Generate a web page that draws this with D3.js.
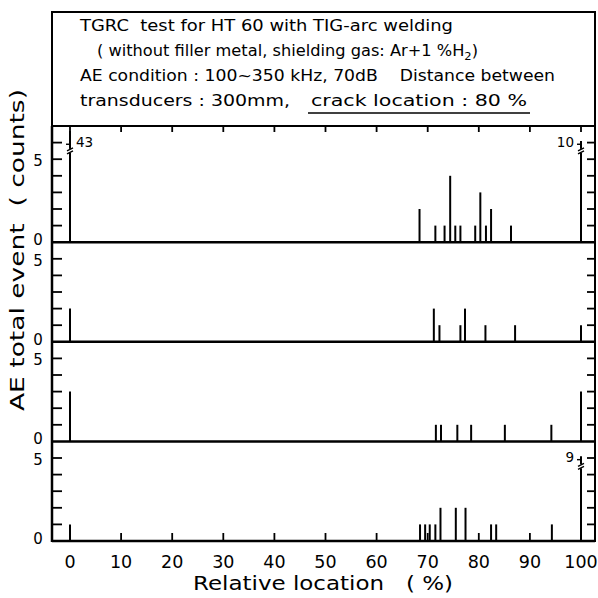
<!DOCTYPE html>
<html>
<head>
<meta charset="utf-8">
<script src="https://cdn.jsdelivr.net/npm/d3@7"></script>
<style>
  body { margin: 0; background: #fff; }
  svg { display: block; font-family: "DejaVu Sans", sans-serif; }
  svg text { white-space: pre; }
</style>
</head>
<body>
<div id="chart"></div>
<script>
// four AE records, location in % and event counts
const loc1 = [0, 68.4, 71.5, 73.3, 74.4, 75.4, 76.4, 79.3, 80.3, 81.4, 82.4, 86.3, 100];
const cnt1 = [43, 2, 1, 1, 4, 1, 1, 1, 3, 1, 2, 1, 10];
const loc2 = [0, 71.2, 72.3, 76.4, 77.3, 81.3, 87.1, 100];
const cnt2 = [2, 2, 1, 1, 2, 1, 1, 1];
const loc3 = [0, 71.6, 72.6, 75.8, 78.5, 85.1, 94.2, 100];
const cnt3 = [3, 1, 1, 1, 1, 1, 1, 3];
const loc4 = [0, 68.5, 69.5, 70.4, 71.5, 72.5, 75.5, 77.4, 82.4, 83.4, 94.3, 100];
const cnt4 = [1, 1, 1, 1, 1, 2, 2, 2, 1, 1, 1, 9];
const panelMax = [7, 6, 6, 6];
const xTicks = [0, 10, 20, 30, 40, 50, 60, 70, 80, 90, 100];
const yLabels = [0, 5];
const titleLines = [
  "TGRC  test for HT 60 with TIG-arc welding",
  "( without filler metal, shielding gas: Ar+1 %H",
  "AE condition : 100~350 kHz, 70dB    Distance between",
  "transducers : 300mm,"
];

const W = 598, H = 598;
const frameL = 52, frameR = 595, plotTop = 126, unit = 16.6;

const svg = d3.select("#chart").append("svg")
    .attr("width", W).attr("height", H);

const x = d3.scaleLinear().domain([0, 100]).range([70, 581]);

// title box
svg.append("rect")
    .attr("x", frameL).attr("y", 12)
    .attr("width", frameR - frameL).attr("height", plotTop - 12)
    .attr("fill", "none").attr("stroke", "#000").attr("stroke-width", 2);

const tb = svg.append("g").style("font-size", "15.5px");
tb.append("text").attr("x", 80).attr("y", 31)
    .attr("textLength", 373).attr("lengthAdjust", "spacingAndGlyphs")
    .text(titleLines[0]);
const l2 = tb.append("text").attr("x", 97).attr("y", 56)
    .attr("textLength", 381).attr("lengthAdjust", "spacingAndGlyphs");
l2.append("tspan").text(titleLines[1]);
l2.append("tspan").attr("dy", 4).style("font-size", "11px").text("2");
l2.append("tspan").attr("dy", -4).text(")");
tb.append("text").attr("x", 80).attr("y", 81)
    .attr("textLength", 475).attr("lengthAdjust", "spacingAndGlyphs")
    .text(titleLines[2]);
tb.append("text").attr("x", 80).attr("y", 106)
    .attr("textLength", 210).attr("lengthAdjust", "spacingAndGlyphs")
    .text(titleLines[3]);
tb.append("text").attr("x", 311).attr("y", 106)
    .attr("textLength", 216).attr("lengthAdjust", "spacingAndGlyphs")
    .text("crack location : 80 %");
tb.append("line").attr("x1", 308).attr("x2", 530).attr("y1", 113).attr("y2", 113)
    .attr("stroke", "#000").attr("stroke-width", 1.5);

// panels
const panels = [
  {loc: loc1, cnt: cnt1},
  {loc: loc2, cnt: cnt2},
  {loc: loc3, cnt: cnt3},
  {loc: loc4, cnt: cnt4}
];

let y0 = plotTop;
panels.forEach(function(p, i) {
  const ymax = panelMax[i];
  const h = ymax * unit;
  const y = d3.scaleLinear().domain([0, ymax]).range([y0 + h, y0]);
  p.y = y;
  const g = svg.append("g");

  // left & right inward ticks
  const ticks = d3.range(1, ymax);
  g.selectAll(".lt").data(ticks).join("line")
      .attr("x1", frameL).attr("x2", frameL + 10)
      .attr("y1", d => y(d)).attr("y2", d => y(d))
      .attr("stroke", "#000").attr("stroke-width", 1.8);
  g.selectAll(".rt").data(ticks).join("line")
      .attr("x1", frameR - 8).attr("x2", frameR)
      .attr("y1", d => y(d)).attr("y2", d => y(d))
      .attr("stroke", "#000").attr("stroke-width", 1.8);

  g.selectAll(".yl").data(yLabels).join("text")
      .attr("x", 38).attr("y", d => y(d) + (d === 0 ? 3 : 7))
      .attr("text-anchor", "middle")
      .style("font-size", "15px")
      .text(d => d);

  // bars, tall ones are broken
  const top = ymax - 0.9;
  const data = p.loc.map((l, k) => ({l: l, c: p.cnt[k]}));
  g.selectAll(".bar").data(data).join("line")
      .attr("x1", d => x(d.l)).attr("x2", d => x(d.l))
      .attr("y1", y(0))
      .attr("y2", d => y(d.c > ymax ? (d.l < 50 ? ymax - 0.3 : top) : d.c))
      .attr("stroke", "#000").attr("stroke-width", 2);

  const broken = data.filter(d => d.c > ymax);
  broken.forEach(function(d) {
    const xb = x(d.l);
    const yb = y(top - 0.6);
    g.append("rect")
        .attr("x", xb - 3).attr("y", yb - 2)
        .attr("width", 6).attr("height", 4).attr("fill", "#fff");
    g.append("line")
        .attr("x1", xb - 3).attr("x2", xb + 3)
        .attr("y1", yb).attr("y2", yb - 3)
        .attr("stroke", "#000").attr("stroke-width", 1.4);
    g.append("line")
        .attr("x1", xb - 3).attr("x2", xb + 3)
        .attr("y1", yb + 3).attr("y2", yb)
        .attr("stroke", "#000").attr("stroke-width", 1.4);
    g.append("line")
        .attr("x1", xb - 4).attr("x2", xb + 1)
        .attr("y1", y(top - 0.2)).attr("y2", y(top - 0.2))
        .attr("stroke", "#000").attr("stroke-width", 1.4);
    const onLeft = d.l > 50;
    g.append("text")
        .attr("x", onLeft ? xb - 7 : xb + 6)
        .attr("y", y(top) + 6)
        .attr("text-anchor", onLeft ? "end" : "start")
        .style("font-size", "13.5px")
        .text(d.c);
  });

  // baseline
  g.append("line")
      .attr("x1", frameL).attr("x2", frameR)
      .attr("y1", y(0)).attr("y2", y(0))
      .attr("stroke", "#000").attr("stroke-width", 2.5);

  y0 += h;
});

// top ticks on first panel, bottom ticks on last
svg.selectAll(".tt").data(xTicks).join("line")
    .attr("x1", d => x(d)).attr("x2", d => x(d))
    .attr("y1", plotTop).attr("y2", plotTop + 6)
    .attr("stroke", "#000").attr("stroke-width", 1.8);
const yBottom = panels[3].y(0);
svg.selectAll(".bt").data(xTicks).join("line")
    .attr("x1", d => x(d)).attr("x2", d => x(d))
    .attr("y1", yBottom).attr("y2", yBottom - 8)
    .attr("stroke", "#000").attr("stroke-width", 1.8);

svg.selectAll(".xl").data(xTicks).join("text")
    .attr("x", d => x(d)).attr("y", yBottom + 27)
    .attr("text-anchor", "middle")
    .style("font-size", "17.5px")
    .text(d => d);

// frame sides
svg.append("line").attr("x1", frameL).attr("x2", frameL)
    .attr("y1", plotTop).attr("y2", yBottom + 1)
    .attr("stroke", "#000").attr("stroke-width", 2.5);
svg.append("line").attr("x1", frameR).attr("x2", frameR)
    .attr("y1", plotTop).attr("y2", yBottom + 1)
    .attr("stroke", "#000").attr("stroke-width", 2);

// axis titles
svg.append("text")
    .attr("x", 193).attr("y", 590)
    .attr("textLength", 260).attr("lengthAdjust", "spacingAndGlyphs")
    .style("font-size", "20px")
    .text("Relative location   ( %)");
svg.append("text")
    .attr("transform", "translate(24,250) rotate(-90)")
    .attr("text-anchor", "middle")
    .attr("textLength", 322).attr("lengthAdjust", "spacingAndGlyphs")
    .style("font-size", "19px")
    .text("AE total event  ( counts)");
</script>
</body>
</html>
